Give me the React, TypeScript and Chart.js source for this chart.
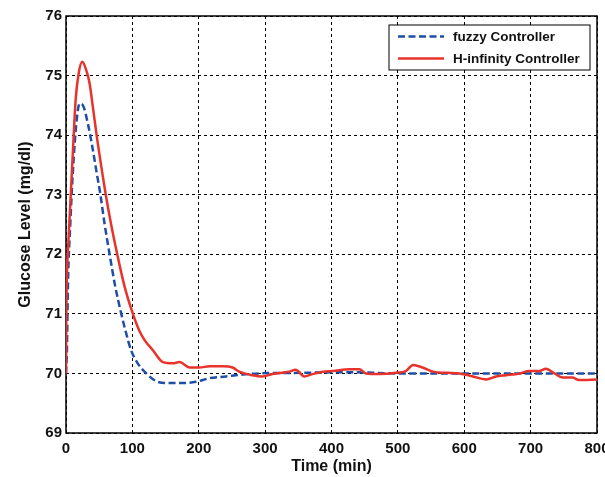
import React, { useEffect, useRef } from "react";
import { Chart, registerables } from "chart.js";

Chart.register(...registerables);

const xTickValues = [0, 100, 200, 300, 400, 500, 600, 700, 800];
const yTickValues = [69, 70, 71, 72, 73, 74, 75, 76];

const fuzzyTime = [0, 1.4, 3, 6.5, 10.5, 15.5, 20.5, 25.5, 33, 40.5, 46.5, 51.6, 58, 65.7, 74, 83.3, 90, 98, 108, 121, 136, 151, 176, 196, 216, 241, 266, 291, 350, 430, 500, 600, 700, 800];
const fuzzyValue = [70.0, 70.39, 71.51, 72.52, 73.41, 74.19, 74.53, 74.5, 74.19, 73.75, 73.35, 73.02, 72.52, 72.0, 71.47, 71.0, 70.7, 70.39, 70.17, 70.0, 69.87, 69.84, 69.84, 69.86, 69.92, 69.95, 69.98, 70.0, 70.01, 70.02, 70.0, 70.0, 70.0, 70.0];

const hinfTime = [0, 0.5, 1.2, 4, 7, 10.5, 14.5, 19, 24.5, 30.5, 35.5, 40.5, 46.5, 55.6, 59.6, 68, 77.2, 88, 100.8, 110, 118.4, 130.9, 146, 161, 171, 186, 201, 216, 236, 251, 261, 281, 296, 311, 336, 346, 359, 369, 387, 402, 427, 442, 452, 472, 497, 512, 523, 537, 553, 573, 593, 613, 633, 648, 663, 683, 698, 713, 723, 736, 748, 763, 773, 800];
const hinfValue = [70.0, 71.0, 71.55, 72.29, 72.96, 73.75, 74.59, 75.03, 75.23, 75.09, 74.87, 74.47, 73.97, 73.3, 73.02, 72.5, 72.0, 71.47, 71.0, 70.73, 70.56, 70.39, 70.19, 70.17, 70.19, 70.1, 70.1, 70.12, 70.12, 70.1, 70.03, 69.97, 69.95, 69.99, 70.03, 70.06, 69.95, 69.98, 70.03, 70.04, 70.07, 70.07, 70.0, 69.99, 70.01, 70.04, 70.14, 70.1, 70.03, 70.01, 70.0, 69.95, 69.9, 69.95, 69.97, 70.0, 70.04, 70.04, 70.08, 70.0, 69.93, 69.93, 69.89, 69.9];

const seriesNames = ["fuzzy Controller", "H-infinity Controller"];
const BLUE = "#1f4ea6";
const RED = "#e8332c";
const FONT = "'Liberation Sans', Arial, sans-serif";

const framePlugin = {
  id: "frameAndLegend",
  beforeDatasetsDraw(chart: any) {
    const { ctx, chartArea } = chart;
    const { left, top, right, bottom } = chartArea;
    ctx.save();
    ctx.setLineDash([]);
    ctx.strokeStyle = "#000";
    ctx.lineWidth = 1.5;
    ctx.strokeRect(left, top, right - left, bottom - top);
    ctx.restore();
  },
  afterDraw(chart: any) {
    const { ctx, chartArea } = chart;
    const bx = chartArea.right - 208;
    const by = chartArea.top + 9;
    const bw = 201;
    const bh = 45;
    ctx.save();
    ctx.fillStyle = "#fff";
    ctx.fillRect(bx, by, bw, bh);
    ctx.strokeStyle = "#000";
    ctx.lineWidth = 1;
    ctx.setLineDash([]);
    ctx.strokeRect(bx, by, bw, bh);
    const items = chart.data.datasets;
    const rows = [by + 11.5, by + 33.5];
    items.forEach((ds: any, i: number) => {
      const y = rows[i];
      ctx.beginPath();
      ctx.strokeStyle = ds.borderColor;
      ctx.lineWidth = ds.borderWidth;
      ctx.setLineDash(ds.borderDash || []);
      ctx.moveTo(bx + 9, y);
      ctx.lineTo(bx + 55, y);
      ctx.stroke();
      ctx.setLineDash([]);
      ctx.fillStyle = "#111";
      ctx.font = `bold 13.5px ${FONT}`;
      ctx.textBaseline = "middle";
      ctx.textAlign = "left";
      ctx.fillText(ds.label, bx + 64, y + 1);
    });
    ctx.restore();
  },
};

export default function App() {
  const ref = useRef<HTMLCanvasElement | null>(null);
  useEffect(() => {
    if (!ref.current) return;
    const chart = new Chart(ref.current, {
      type: "line",
      data: {
        datasets: [
          {
            label: seriesNames[0],
            data: fuzzyTime.map((t, i) => ({ x: t, y: fuzzyValue[i] })),
            borderColor: BLUE,
            borderWidth: 2.5,
            borderDash: [7, 3.5],
            pointRadius: 0,
            cubicInterpolationMode: "monotone",
            fill: false,
            order: 1,
          },
          {
            label: seriesNames[1],
            data: hinfTime.map((t, i) => ({ x: t, y: hinfValue[i] })),
            borderColor: RED,
            borderWidth: 2.5,
            pointRadius: 0,
            cubicInterpolationMode: "monotone",
            fill: false,
            order: 0,
          },
        ],
      },
      options: {
        responsive: false,
        animation: false,
        devicePixelRatio: 1,
        layout: { padding: { top: 16, right: 28, left: 0, bottom: 0 } },
        plugins: { legend: { display: false }, tooltip: { enabled: false } },
        scales: {
          x: {
            type: "linear",
            min: 0,
            max: 800,
            afterBuildTicks: (s: any) => {
              s.ticks = xTickValues.map((v) => ({ value: v }));
            },
            afterFit: (s: any) => {
              s.height = 44;
            },
            grid: { color: "#000", lineWidth: 1, drawTicks: false },
            border: { display: false, dash: [3, 3] },
            ticks: {
              padding: 7,
              color: "#111",
              font: { family: FONT, size: 15, weight: "bold" },
              maxRotation: 0,
              autoSkip: false,
            },
            title: {
              display: true,
              text: "Time (min)",
              color: "#111",
              font: { family: FONT, size: 16, weight: "bold" },
              padding: { top: 0, bottom: 1 },
            },
          },
          y: {
            type: "linear",
            min: 69,
            max: 76,
            afterBuildTicks: (s: any) => {
              s.ticks = yTickValues.map((v) => ({ value: v }));
            },
            afterFit: (s: any) => {
              s.width = 66;
            },
            grid: { color: "#000", lineWidth: 1, drawTicks: false },
            border: { display: false, dash: [3, 3] },
            ticks: {
              padding: 4,
              color: "#111",
              font: { family: FONT, size: 15, weight: "bold" },
              autoSkip: false,
            },
            title: {
              display: true,
              text: "Glucose Level (mg/dl)",
              color: "#111",
              font: { family: FONT, size: 16, weight: "bold" },
              padding: { top: 16, bottom: 0 },
            },
          },
        },
      },
      plugins: [framePlugin],
    } as any);
    return () => chart.destroy();
  }, []);
  return (
    <div
      style={{
        position: "fixed",
        left: 0,
        top: 0,
        width: 605,
        height: 477,
        overflow: "hidden",
        background: "#fff",
      }}
    >
      <canvas ref={ref} width={625} height={477} style={{ width: 625, height: 477, display: "block" }} />
    </div>
  );
}
